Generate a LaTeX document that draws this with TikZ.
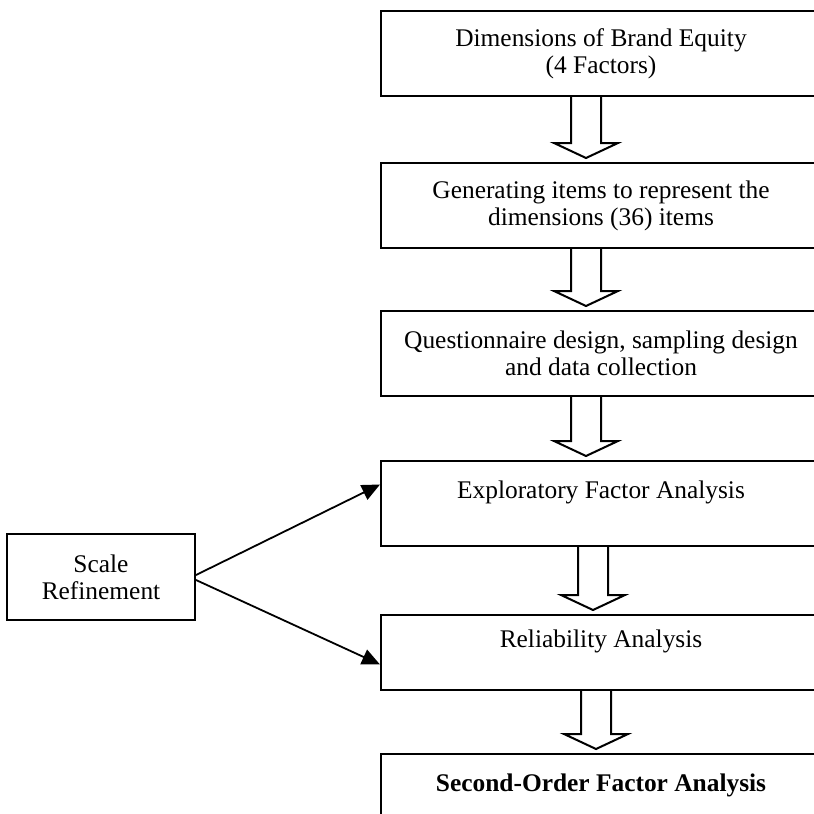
\documentclass[tikz,border=0pt]{standalone}
\usepackage{fontspec}
\setmainfont{Liberation Serif}
\usetikzlibrary{arrows.meta, positioning, calc}

% hollow block arrow from the bottom of one stage to the top of the next
\newcommand{\hollowarrow}[2]{%
  \draw[hollow] let \p1=(#1), \p2=(#2) in
    (\x1-7.5pt,\y1) -- (\x1-7.5pt,\y2+9.5pt) -- (\x1-16pt,\y2+9.5pt) -- (\x1,\y2+2pt)
    -- (\x1+16pt,\y2+9.5pt) -- (\x1+7.5pt,\y2+9.5pt) -- (\x1+7.5pt,\y1);}

\begin{document}
\begin{tikzpicture}[x=0.5pt, y=-0.5pt,
    stage/.style={draw, line width=1pt, minimum width=220pt, minimum height=42.5pt, align=center, inner sep=0pt, font=\fontsize{12.7pt}{13.5pt}\selectfont},
    hollow/.style={line width=1pt, fill=white},
    link/.style={-{Triangle[length=9pt, width=8pt]}, line width=0.9pt}
]
\clip (0,0) rectangle (814,814);

% Stages of the scale development
\node[stage, anchor=north west] (dims) at (380,10) {Dimensions of Brand Equity\\(4 Factors)};
\node[stage, below=32.5pt of dims] (items) {Generating items to represent the\\dimensions (36) items};
\node[stage, below=30.5pt of items] (design) {Questionnaire design, sampling design\\and data collection};
\node[stage, below=31.5pt of design] (efa) {Exploratory Factor Analysis\\\mbox{}};
\node[stage, minimum height=37.5pt, below=33.5pt of efa] (rel) {Reliability Analysis\\\mbox{}};
\node[stage, below=31pt of rel] (sofa) {\textbf{Second-Order Factor Analysis}\\\mbox{}};

% Block arrows between stages
\hollowarrow{[xshift=-7.5pt]dims.south}{[xshift=-7.5pt]items.north}
\hollowarrow{[xshift=-7.5pt]items.south}{[xshift=-7.5pt]design.north}
\hollowarrow{[xshift=-7.5pt]design.south}{[xshift=-7.5pt]efa.north}
\hollowarrow{[xshift=-4pt]efa.south}{[xshift=-4pt]rel.north}
\hollowarrow{[xshift=-2.5pt]rel.south}{[xshift=-2.5pt]sofa.north}

% Scale refinement
\node[stage, minimum width=94pt, minimum height=43pt] (scale) at (101,577) {Scale\\Refinement};
\draw[link] ([yshift=1pt]scale.east) -- ([yshift=9.5pt]efa.west);
\draw[link] ([yshift=-1.5pt]scale.east) -- ([yshift=-6pt]rel.west);

\end{tikzpicture}
\end{document}
